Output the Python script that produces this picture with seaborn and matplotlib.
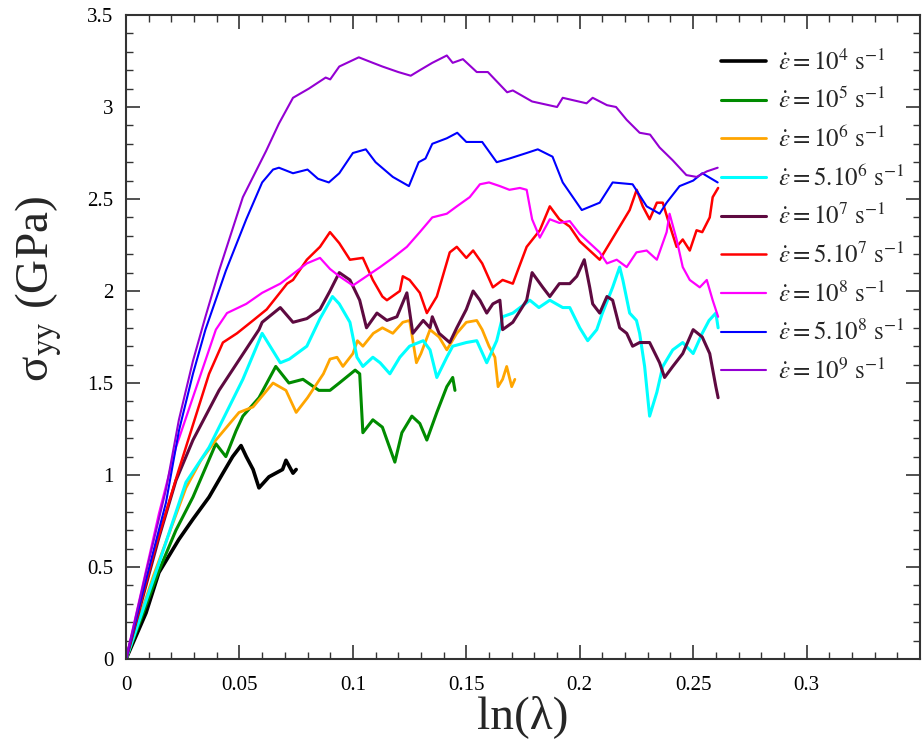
import matplotlib
matplotlib.use("Agg")
import matplotlib.pyplot as plt
import seaborn as sns
from matplotlib.ticker import MultipleLocator, FuncFormatter

# ---- stress-strain curves: sigma_yy (GPa) vs ln(lambda) for each strain rate ----
x_1e4 = [0, 0.0088, 0.0145, 0.0233, 0.0295, 0.0366, 0.0427, 0.047, 0.0507, 0.053,
         0.056, 0.0586, 0.063, 0.069, 0.0705, 0.0736, 0.075]
y_1e4 = [0, 0.25, 0.47, 0.65, 0.76, 0.88, 1.01, 1.10, 1.16, 1.10,
         1.03, 0.93, 0.99, 1.03, 1.08, 1.01, 1.03]

x_1e5 = [0, 0.0145, 0.022, 0.0295, 0.0396, 0.044, 0.0485, 0.0515, 0.0586, 0.066,
         0.0718, 0.078, 0.085, 0.0899, 0.094, 0.101, 0.103, 0.1044, 0.1088, 0.113,
         0.1185, 0.1216, 0.126, 0.1295, 0.1326, 0.137, 0.1414, 0.144, 0.145]
y_1e5 = [0, 0.48, 0.70, 0.88, 1.17, 1.10, 1.24, 1.32, 1.42, 1.59,
         1.50, 1.52, 1.46, 1.46, 1.50, 1.57, 1.55, 1.23, 1.30, 1.26,
         1.07, 1.23, 1.32, 1.28, 1.19, 1.34, 1.48, 1.53, 1.46]

x_1e6 = [0, 0.012, 0.0264, 0.033, 0.0396, 0.0498, 0.056, 0.0648, 0.0705, 0.075,
         0.080, 0.087, 0.0899, 0.093, 0.0956, 0.100, 0.102, 0.1044, 0.109, 0.113,
         0.1176, 0.122, 0.125, 0.128, 0.130, 0.134, 0.138, 0.1414, 0.1458, 0.150,
         0.1546, 0.157, 0.160, 0.1626, 0.164, 0.166, 0.1678, 0.170, 0.1714]
y_1e6 = [0, 0.45, 0.93, 1.08, 1.19, 1.34, 1.37, 1.50, 1.46, 1.34,
         1.42, 1.55, 1.63, 1.64, 1.59, 1.66, 1.73, 1.70, 1.77, 1.80,
         1.77, 1.83, 1.84, 1.61, 1.66, 1.79, 1.75, 1.68, 1.77, 1.83,
         1.84, 1.79, 1.70, 1.64, 1.48, 1.52, 1.59, 1.48, 1.52]

x_5e6 = [0, 0.0145, 0.0264, 0.0366, 0.0515, 0.060, 0.068, 0.072, 0.0797, 0.0855,
         0.091, 0.094, 0.0987, 0.1018, 0.1044, 0.1088, 0.112, 0.1163, 0.1207, 0.125,
         0.131, 0.134, 0.137, 0.1414, 0.144, 0.150, 0.1546, 0.159, 0.1634, 0.166,
         0.1705, 0.178, 0.182, 0.1868, 0.1925, 0.1956, 0.200, 0.2035, 0.2075, 0.210,
         0.2145, 0.2176, 0.219, 0.222, 0.225, 0.2264, 0.2286, 0.2308, 0.234, 0.2366,
         0.241, 0.2454, 0.250, 0.254, 0.257, 0.260, 0.261]
y_5e6 = [0, 0.52, 0.96, 1.15, 1.52, 1.77, 1.61, 1.63, 1.70, 1.85,
         1.97, 1.93, 1.83, 1.64, 1.59, 1.64, 1.61, 1.55, 1.64, 1.70,
         1.73, 1.68, 1.53, 1.64, 1.70, 1.72, 1.73, 1.61, 1.73, 1.86,
         1.88, 1.95, 1.91, 1.95, 1.91, 1.91, 1.80, 1.73, 1.79, 1.88,
         2.02, 2.13, 2.06, 1.88, 1.84, 1.77, 1.59, 1.32, 1.45, 1.59,
         1.68, 1.72, 1.66, 1.77, 1.84, 1.88, 1.80]

x_1e7 = [0, 0.0145, 0.022, 0.0295, 0.041, 0.0586, 0.060, 0.068, 0.0736, 0.0797,
         0.0855, 0.0899, 0.094, 0.0987, 0.103, 0.106, 0.1106, 0.115, 0.1194, 0.1238,
         0.1264, 0.131, 0.134, 0.135, 0.138, 0.1427, 0.1458, 0.150, 0.153, 0.156,
         0.159, 0.1617, 0.1648, 0.166, 0.1705, 0.1766, 0.179, 0.1837, 0.1868, 0.191,
         0.1956, 0.1987, 0.202, 0.2044, 0.2057, 0.2088, 0.212, 0.2145, 0.2176, 0.2207,
         0.2233, 0.2264, 0.2308, 0.2352, 0.2374, 0.241, 0.2454, 0.250, 0.254, 0.2573,
         0.260, 0.261]
y_1e7 = [0, 0.66, 0.97, 1.19, 1.46, 1.79, 1.83, 1.91, 1.83, 1.85,
         1.90, 2.00, 2.10, 2.06, 1.95, 1.80, 1.88, 1.84, 1.86, 1.99,
         1.77, 1.84, 1.80, 1.86, 1.77, 1.72, 1.80, 1.90, 2.00, 1.95,
         1.88, 1.93, 1.95, 1.79, 1.83, 1.95, 2.10, 2.02, 1.97, 2.04,
         2.04, 2.08, 2.17, 2.02, 1.93, 1.88, 1.97, 1.95, 1.80, 1.77,
         1.70, 1.72, 1.72, 1.61, 1.53, 1.59, 1.66, 1.79, 1.75, 1.66,
         1.48, 1.42]

x_5e7 = [0, 0.013, 0.0233, 0.0366, 0.0427, 0.0489, 0.056, 0.062, 0.0665, 0.071,
         0.0736, 0.0797, 0.0855, 0.0899, 0.094, 0.0987, 0.1044, 0.1088, 0.113, 0.115,
         0.1207, 0.122, 0.125, 0.1295, 0.1326, 0.137, 0.1427, 0.1458, 0.150, 0.153,
         0.157, 0.1617, 0.166, 0.1705, 0.1766, 0.1824, 0.1868, 0.191, 0.1956, 0.200,
         0.2044, 0.2088, 0.2132, 0.2176, 0.222, 0.2251, 0.2278, 0.2308, 0.234, 0.2366,
         0.2388, 0.2427, 0.2454, 0.2485, 0.2515, 0.254, 0.2573, 0.2586, 0.261]
y_5e7 = [0, 0.61, 1.03, 1.55, 1.72, 1.77, 1.84, 1.90, 1.97, 2.04,
         2.06, 2.17, 2.24, 2.32, 2.26, 2.17, 2.18, 2.06, 1.97, 1.95,
         2.00, 2.08, 2.06, 1.99, 1.88, 1.97, 2.21, 2.24, 2.18, 2.22,
         2.15, 2.02, 2.06, 2.04, 2.24, 2.33, 2.46, 2.39, 2.35, 2.27,
         2.22, 2.17, 2.26, 2.35, 2.44, 2.55, 2.46, 2.39, 2.48, 2.48,
         2.39, 2.24, 2.28, 2.22, 2.33, 2.32, 2.40, 2.51, 2.56]

x_1e8 = [0, 0.0145, 0.022, 0.0396, 0.0445, 0.053, 0.060, 0.068, 0.0797, 0.0855,
         0.0899, 0.094, 0.100, 0.106, 0.112, 0.1176, 0.1238, 0.1295, 0.135, 0.1414,
         0.1458, 0.1515, 0.156, 0.160, 0.1648, 0.169, 0.1736, 0.1766, 0.179, 0.1824,
         0.1868, 0.191, 0.1956, 0.200, 0.2044, 0.2088, 0.212, 0.2163, 0.2207, 0.225,
         0.2295, 0.234, 0.2383, 0.2396, 0.2427, 0.2454, 0.2485, 0.2529, 0.256, 0.2586,
         0.261]
y_1e8 = [0, 0.79, 1.15, 1.79, 1.88, 1.93, 1.99, 2.04, 2.15, 2.18,
         2.12, 2.08, 2.03, 2.08, 2.13, 2.18, 2.24, 2.32, 2.40, 2.42,
         2.46, 2.51, 2.58, 2.59, 2.57, 2.55, 2.56, 2.55, 2.39, 2.29,
         2.39, 2.37, 2.38, 2.31, 2.26, 2.21, 2.15, 2.17, 2.13, 2.21,
         2.22, 2.17, 2.32, 2.42, 2.28, 2.13, 2.06, 2.02, 2.06, 1.95,
         1.86]

x_5e8 = [0, 0.0088, 0.0176, 0.0233, 0.0295, 0.035, 0.044, 0.053, 0.060, 0.0648,
         0.0674, 0.0736, 0.080, 0.0846, 0.0894, 0.094, 0.100, 0.1057, 0.110, 0.1176,
         0.1247, 0.129, 0.132, 0.135, 0.1414, 0.146, 0.150, 0.157, 0.1634, 0.169,
         0.1766, 0.1815, 0.188, 0.1925, 0.2009, 0.2088, 0.2145, 0.2233, 0.2295, 0.2352,
         0.2383, 0.244, 0.250, 0.254, 0.2608]
y_5e8 = [0, 0.43, 0.85, 1.24, 1.55, 1.79, 2.11, 2.39, 2.59, 2.66,
         2.67, 2.64, 2.66, 2.61, 2.59, 2.64, 2.75, 2.77, 2.70, 2.62,
         2.57, 2.70, 2.72, 2.80, 2.83, 2.86, 2.81, 2.81, 2.70, 2.72,
         2.75, 2.77, 2.73, 2.59, 2.44, 2.48, 2.59, 2.58, 2.46, 2.42,
         2.48, 2.57, 2.60, 2.64, 2.59]

x_1e9 = [0, 0.0088, 0.0176, 0.0233, 0.0295, 0.035, 0.041, 0.0515, 0.0617, 0.0674,
         0.0736, 0.0806, 0.088, 0.090, 0.094, 0.1026, 0.1088, 0.113, 0.120, 0.1255,
         0.1295, 0.135, 0.1414, 0.144, 0.1485, 0.1546, 0.1595, 0.168, 0.1705, 0.179,
         0.190, 0.1925, 0.203, 0.2057, 0.212, 0.216, 0.2207, 0.2264, 0.231, 0.2352,
         0.241, 0.247, 0.2515, 0.256, 0.2608]
y_1e9 = [0, 0.47, 0.92, 1.30, 1.62, 1.86, 2.11, 2.51, 2.76, 2.91,
         3.05, 3.10, 3.16, 3.15, 3.22, 3.27, 3.24, 3.22, 3.19, 3.17,
         3.20, 3.24, 3.28, 3.24, 3.26, 3.19, 3.19, 3.08, 3.09, 3.03,
         3.00, 3.05, 3.02, 3.05, 3.01, 3.00, 2.93, 2.86, 2.85, 2.78,
         2.71, 2.63, 2.62, 2.65, 2.67]

labels = [
    r"$\dot{\varepsilon} = 10^{4}\ \mathrm{s}^{-1}$",
    r"$\dot{\varepsilon} = 10^{5}\ \mathrm{s}^{-1}$",
    r"$\dot{\varepsilon} = 10^{6}\ \mathrm{s}^{-1}$",
    r"$\dot{\varepsilon} = 5.10^{6}\ \mathrm{s}^{-1}$",
    r"$\dot{\varepsilon} = 10^{7}\ \mathrm{s}^{-1}$",
    r"$\dot{\varepsilon} = 5.10^{7}\ \mathrm{s}^{-1}$",
    r"$\dot{\varepsilon} = 10^{8}\ \mathrm{s}^{-1}$",
    r"$\dot{\varepsilon} = 5.10^{8}\ \mathrm{s}^{-1}$",
    r"$\dot{\varepsilon} = 10^{9}\ \mathrm{s}^{-1}$",
]
xs = [x_1e4, x_1e5, x_1e6, x_5e6, x_1e7, x_5e7, x_1e8, x_5e8, x_1e9]
ys = [y_1e4, y_1e5, y_1e6, y_5e6, y_1e7, y_5e7, y_1e8, y_5e8, y_1e9]
colors = ["#000000", "#008B00", "#FFA500", "#00FFFF", "#5E0A40",
          "#FF0000", "#FF00FF", "#0000FF", "#9400D3"]
widths = [2.6, 2.2, 2.0, 2.2, 2.2, 1.8, 1.6, 1.5, 1.5]

sns.set_style("ticks")
plt.rcParams["font.family"] = ["Liberation Serif", "DejaVu Serif"]
plt.rcParams["mathtext.fontset"] = "stix"

fig = plt.figure(figsize=(9.24, 7.46), dpi=100)
ax = fig.add_axes([0.1364, 0.1166, 0.8593, 0.8633])

for xv, yv, lab, col, lw in zip(xs, ys, labels, colors, widths):
    sns.lineplot(x=xv, y=yv, ax=ax, color=col, linewidth=lw, label=lab,
                 estimator=None, sort=False)

ax.set_xlim(0, 0.35)
ax.set_ylim(0, 3.5)
ax.xaxis.set_major_locator(MultipleLocator(0.05))
ax.xaxis.set_minor_locator(MultipleLocator(0.01))
ax.yaxis.set_major_locator(MultipleLocator(0.5))
ax.yaxis.set_minor_locator(MultipleLocator(0.1))
ax.xaxis.set_major_formatter(FuncFormatter(lambda v, p: "" if v > 0.33 else f"{v:g}"))
ax.yaxis.set_major_formatter(FuncFormatter(lambda v, p: f"{v:g}"))
ax.tick_params(which="both", direction="in", top=True, right=True,
               colors="#333333", labelcolor="black")
ax.tick_params(which="major", length=10, width=1.2, labelsize=15)
ax.tick_params(axis="x", which="major", pad=12)
ax.tick_params(axis="y", which="major", pad=9)
ax.tick_params(which="minor", length=5, width=1.0)
for sp in ax.spines.values():
    sp.set_linewidth(1.5)
    sp.set_color("#333333")

ax.set_xlabel("ln(λ)", fontsize=34, labelpad=0)
ax.set_ylabel(r"σ$_{\mathrm{yy}}$ (GPa)", fontsize=34)
ax.yaxis.set_label_coords(-0.078, 0.575)

ax.legend(loc="upper right", bbox_to_anchor=(1.0, 0.97), frameon=False,
          fontsize=18, handlelength=1.8, handletextpad=0.5, labelspacing=0.53,
          borderaxespad=0.2)

fig.savefig("out.png", dpi=100)
